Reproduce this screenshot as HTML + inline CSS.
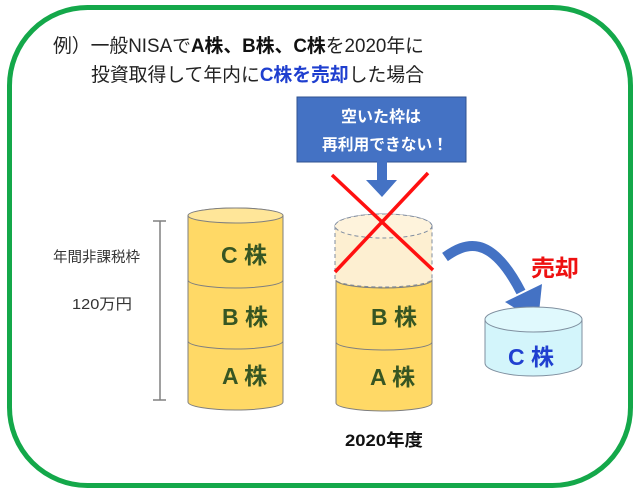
<!DOCTYPE html>
<html><head><meta charset="utf-8"><style>
html,body{margin:0;padding:0;background:#fff;}
svg{display:block;}
text{font-family:"Liberation Sans","Noto Sans CJK JP",sans-serif;}
</style></head><body>
<svg width="640" height="493" viewBox="0 0 640 493" xmlns="http://www.w3.org/2000/svg">
<rect x="0" y="0" width="640" height="493" fill="#fff"/>
<rect x="9.5" y="7.5" width="621" height="478" rx="78" ry="78" fill="none" stroke="#14A84A" stroke-width="5"/>

<!-- Title -->
<text x="53" y="52" font-size="19" fill="#222" textLength="371" lengthAdjust="spacingAndGlyphs">例）一般NISAで<tspan font-weight="bold" fill="#111">A株、B株、C株</tspan>を2020年に</text>
<text x="91" y="81" font-size="19" fill="#222" textLength="333" lengthAdjust="spacingAndGlyphs">投資取得して年内に<tspan font-weight="bold" fill="#1F3FCF">C株を売却</tspan>した場合</text>

<!-- Blue box -->
<rect x="297" y="97" width="169" height="65" fill="#4472C4" stroke="#2F528F" stroke-width="1"/>
<text x="381" y="122" font-size="16" font-weight="bold" fill="#fff" text-anchor="middle">空いた枠は</text>
<text x="385" y="150" font-size="16" font-weight="bold" fill="#fff" text-anchor="middle" textLength="126" lengthAdjust="spacingAndGlyphs">再利用できない！</text>
<rect x="377" y="161" width="10" height="20" fill="#4472C4"/>
<polygon points="366,180 397,180 382,197" fill="#4472C4"/>

<!-- Bracket and left labels -->
<g stroke="#808080" stroke-width="1.5">
<line x1="160" y1="221" x2="160" y2="400"/>
<line x1="153" y1="221" x2="166" y2="221"/>
<line x1="153" y1="400" x2="166" y2="400"/>
</g>
<text x="53" y="262" font-size="14.5" fill="#333" textLength="87" lengthAdjust="spacingAndGlyphs">年間非課税枠</text>
<text x="72" y="309" font-size="15" fill="#333" textLength="60" lengthAdjust="spacingAndGlyphs">120万円</text>

<!-- Left stack -->
<g stroke="#7F7F7F" stroke-width="1" fill="#FFD966">
<path d="M188 341 L188 402 A47.5 8 0 0 0 283 402 L283 341 A47.5 8 0 0 0 188 341 Z"/>
<path d="M188 280 L188 341 A47.5 8 0 0 0 283 341 L283 280 A47.5 8 0 0 0 188 280 Z"/>
<path d="M188 216 L188 280 A47.5 8 0 0 0 283 280 L283 216 A47.5 8 0 0 0 188 216 Z"/>
<ellipse cx="235.5" cy="215.5" rx="47.5" ry="7.5" fill="#FFE699"/>
</g>
<g font-size="23" font-weight="bold" fill="#375623">
<text x="221" y="263">C 株</text>
<text x="222" y="325">B 株</text>
<text x="222" y="384">A 株</text>
</g>

<!-- Right stack -->
<g stroke="#7F7F7F" stroke-width="1" fill="#FFD966">
<path d="M336 342 L336 403 A48 8 0 0 0 432 403 L432 342 A48 8 0 0 0 336 342 Z"/>
<path d="M336 280 L336 342 A48 8 0 0 0 432 342 L432 280 A48 8 0 0 0 336 280 Z"/>
</g>
<path d="M335 226 L335 279 A48.5 8 0 0 0 432 279 L432 226 A48.5 12 0 0 0 335 226 Z" fill="#FDEFD1" stroke="#7F8CA0" stroke-width="1" stroke-dasharray="4 3"/>
<ellipse cx="383.5" cy="226" rx="48.5" ry="12" fill="#FEF3DC" stroke="#7F8CA0" stroke-width="1" stroke-dasharray="4 3"/>
<path d="M336 280 A48 8 0 0 0 432 280" fill="none" stroke="#7F7F7F" stroke-width="1"/>
<g font-size="23" font-weight="bold" fill="#375623">
<text x="371" y="325">B 株</text>
<text x="370" y="385">A 株</text>
</g>

<!-- Red X -->
<g stroke="#FF1010" stroke-width="3.5" stroke-linecap="butt">
<line x1="332" y1="175" x2="433" y2="270"/>
<line x1="428" y1="173" x2="335" y2="272"/>
</g>

<text x="345" y="446" font-size="17" font-weight="bold" fill="#111" textLength="78" lengthAdjust="spacingAndGlyphs">2020年度</text>

<!-- Curved arrow -->
<path d="M445 257 C465 243 490 232 521 292" fill="none" stroke="#4472C4" stroke-width="10"/>
<polygon points="505,302 542,284 538,322" fill="#4472C4"/>

<text x="531" y="276" font-size="23" font-weight="bold" fill="#EE1111" textLength="48" lengthAdjust="spacingAndGlyphs">売却</text>

<!-- Light blue cylinder -->
<path d="M485 320 L485 363 A48.5 13 0 0 0 582 363 L582 320 A48.5 12.5 0 0 0 485 320 Z" fill="#D3F5FB" stroke="#7F8F9F" stroke-width="1"/>
<ellipse cx="533.5" cy="319.5" rx="48.5" ry="12.5" fill="#E0F9FD" stroke="#7F8F9F" stroke-width="1"/>
<text x="508" y="365" font-size="23" font-weight="bold" fill="#2040D0">C 株</text>
</svg>
</body></html>
